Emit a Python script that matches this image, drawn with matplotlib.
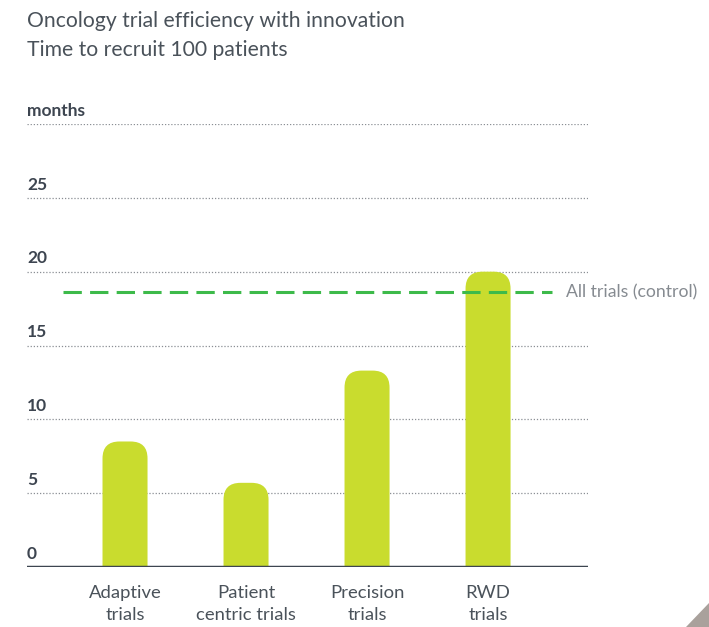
import matplotlib.pyplot as plt
from matplotlib.patches import FancyBboxPatch, Polygon

plt.rcParams['font.family'] = ['Lato', 'DejaVu Sans']

categories = ["Adaptive\ntrials", "Patient\ncentric trials", "Precision\ntrials", "RWD\ntrials"]
months = [8.5, 5.7, 13.3, 20.0]
control = 18.6
yticks = [0, 5, 10, 15, 20, 25]

bar_color = "#c9dc2e"
text_dark = "#3d4550"
grid_color = "#8a8f94"

W, H = 709, 627
fig = plt.figure(figsize=(W / 100, H / 100), dpi=100)

# axes placed in pixel units
left, right, bottom, top = 27, 588, 567, 124
ax = fig.add_axes([left / W, 1 - bottom / H, (right - left) / W, (bottom - top) / H])
ax.set_xlim(-0.81, 3.826)
ax.set_ylim(0, 30)
ax.axis("off")

for y in yticks[1:] + [30]:
    ax.axhline(y, color=grid_color, lw=0.9, ls=(0, (1, 1.5)), zorder=1)

for y in yticks:
    ax.text(-0.81, y + 0.9, str(y), fontsize=12.5, fontweight="bold",
            color=text_dark, va="center", ha="left")
ax.text(-0.81, 30 + 0.9, "months", fontsize=12.5, fontweight="bold",
        color=text_dark, va="center", ha="left")

# bars with rounded tops (bottom part hidden below the axis)
bw = 0.372
aspect = 121 / 14.77
r = 0.14
for i, v in enumerate(months):
    ax.add_patch(FancyBboxPatch((i - bw / 2, -4), bw, v + 4,
                                boxstyle=f"round,pad=0,rounding_size={r}",
                                mutation_aspect=aspect, fc=bar_color, ec="none", zorder=2))
    ax.text(i, -1.2, categories[i], ha="center", va="top", fontsize=13.3,
            color="#4a525a", linespacing=1.45)

ax.axhline(0, color="#3d4550", lw=2.5, zorder=3)

# control reference line
ax.plot([-0.51, 3.53], [control, control], color="#3dba4a", lw=2.2,
        ls=(0, (6, 2.7)), zorder=3, solid_capstyle="butt")
ax.text(3.645, control, "All trials (control)", fontsize=12.7, color="#868b91",
        va="center", ha="left", clip_on=False)

fig.text(27 / W, 1 - 21 / H, "Oncology trial efficiency with innovation",
         fontsize=15.2, color="#4a525a", va="center", ha="left")
fig.text(27 / W, 1 - 50 / H, "Time to recruit 100 patients",
         fontsize=15.2, color="#4a525a", va="center", ha="left")

fig.patches.append(Polygon([[686 / W, 0], [1, 0], [1, 24 / H]], closed=True,
                           transform=fig.transFigure, fc="#a9a19c", ec="none"))

fig.savefig("out.png", dpi=100)
